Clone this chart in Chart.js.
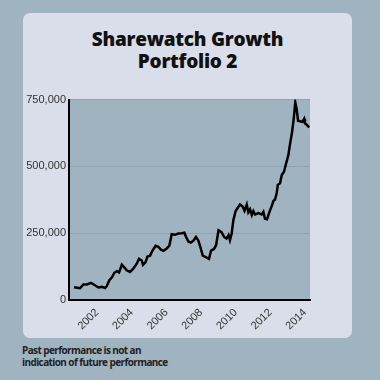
<!DOCTYPE html>
<html>
<head>
<meta charset="utf-8">
<script src="https://cdn.jsdelivr.net/npm/chart.js@4/dist/chart.umd.min.js"></script>
<style>
html,body{margin:0;padding:0;}
body{width:380px;height:380px;background:#9fb3c1;position:relative;overflow:hidden;font-family:"Open Sans",sans-serif;}
#card{position:absolute;left:23px;top:13px;width:329px;height:325px;background:#d9deea;border-radius:7px;}
#title{position:absolute;left:23px;top:28px;width:329px;text-align:center;font-weight:800;font-size:19px;line-height:22px;letter-spacing:-0.25px;color:#111;}
#foot{position:absolute;left:22px;top:344px;font-weight:700;font-size:10px;line-height:12px;letter-spacing:-0.6px;color:#222;}
#box{position:absolute;left:0;top:90px;width:330px;height:250px;}
</style>
</head>
<body>
<div id="card"></div>
<div id="title">Sharewatch Growth<br>Portfolio 2</div>
<div id="box"><canvas id="c"></canvas></div>
<div id="foot">Past performance is not an<br>indication of future performance</div>
<script>
const years = [2000.67,2001.02,2001.21,2001.41,2001.65,2001.88,2002.08,2002.27,2002.46,2002.56,2002.71,2002.85,2003.00,2003.14,2003.27,2003.43,2003.58,2003.71,2003.90,2004.09,2004.29,2004.42,2004.58,2004.65,2004.80,2004.91,2005.06,2005.20,2005.38,2005.54,2005.69,2005.83,2006.02,2006.17,2006.31,2006.50,2006.69,2006.89,2007.04,2007.14,2007.27,2007.41,2007.56,2007.71,2007.85,2007.94,2008.10,2008.29,2008.46,2008.58,2008.75,2008.87,2009.01,2009.18,2009.33,2009.47,2009.59,2009.67,2009.77,2009.87,2010.00,2010.12,2010.25,2010.40,2010.51,2010.64,2010.73,2010.83,2010.93,2011.02,2011.12,2011.22,2011.31,2011.41,2011.50,2011.60,2011.69,2011.81,2011.90,2012.01,2012.10,2012.17,2012.27,2012.37,2012.43,2012.56,2012.66,2012.79,2012.91,2013.04,2013.14,2013.24,2013.29,2013.35,2013.44,2013.52,2013.60,2013.71,2013.85,2013.95,2014.00,2014.10,2014.19,2014.26];
const values = [48000,44000,58000,58000,64000,55000,47000,49000,45000,52000,74000,84000,102000,108000,103000,132000,121000,111000,105000,117000,136000,154000,148000,132000,142000,163000,166000,185000,203000,199000,188000,184000,193000,203000,246000,244000,249000,250000,252000,236000,219000,215000,222000,236000,222000,203000,166000,160000,154000,185000,191000,205000,261000,254000,236000,230000,243000,224000,249000,300000,333000,345000,357000,350000,334000,357000,328000,339000,318000,333000,320000,322000,326000,322000,320000,330000,304000,302000,320000,340000,355000,370000,376000,400000,431000,437000,468000,480000,511000,542000,585000,622000,647000,678000,740000,715000,671000,669000,667000,678000,661000,656000,649000,647000];
const tickYears = [2002,2004,2006,2008,2010,2012,2014];
const yTicks = [0,250000,500000,750000];

const bgPlugin = {
  id:'bg',
  beforeDraw(chart){
    const {ctx, chartArea:a} = chart;
    ctx.save();
    ctx.fillStyle = '#9fb3c1';
    ctx.fillRect(a.left, a.top, a.right-a.left, a.bottom-a.top);
    ctx.restore();
  }
};

new Chart(document.getElementById('c'), {
  type:'line',
  data:{datasets:[{
    data: years.map((y,i)=>({x:y, y:values[i]})),
    borderColor:'#000', borderWidth:2.5, pointRadius:0, tension:0, fill:false
  }]},
  options:{
    responsive:true, maintainAspectRatio:false, animation:false,
    layout:{padding:{top:7,right:20,left:0,bottom:0}},
    plugins:{legend:{display:false}, tooltip:{enabled:false}},
    scales:{
      x:{
        type:'linear', min:2000.38, max:2014.29,
        afterBuildTicks(s){ s.ticks = tickYears.map(v=>({value:v})); },
        afterFit(s){ s.height = 40; },
        grid:{display:false, drawTicks:false},
        border:{display:true, color:'#000', width:2},
        ticks:{minRotation:45, maxRotation:45, padding:6, color:'#333',
          font:{family:'"Liberation Sans", Arial, sans-serif', size:11},
          callback:v=>String(v)}
      },
      y:{
        min:0, max:750000,
        afterBuildTicks(s){ s.ticks = yTicks.map(v=>({value:v})); },
        afterFit(s){ s.width = 69; },
        grid:{color:'#8ea2b0', lineWidth:1, drawTicks:false},
        border:{display:true, color:'#000', width:2},
        ticks:{padding:3, color:'#333',
          font:{family:'"Liberation Sans", Arial, sans-serif', size:11},
          callback:v=>v.toLocaleString('en-US')}
      }
    }
  },
  plugins:[bgPlugin]
});
</script>
</body>
</html>
